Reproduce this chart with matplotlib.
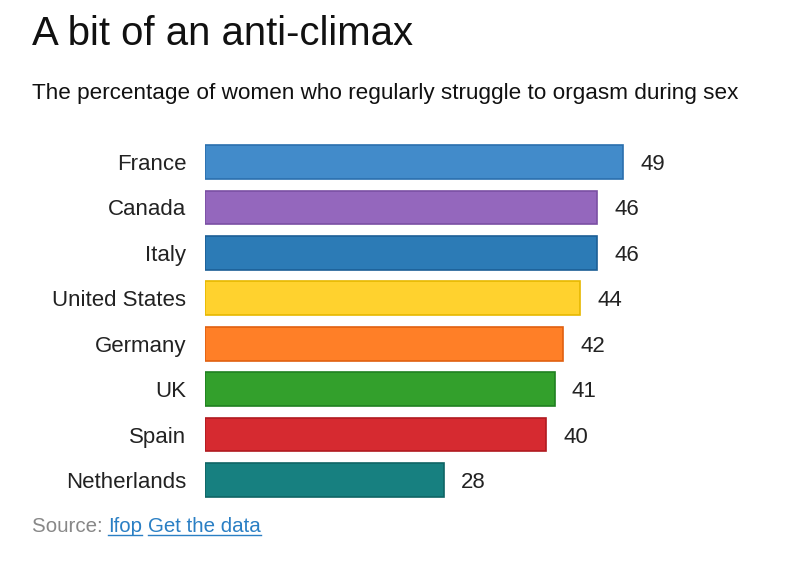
import matplotlib
matplotlib.use("Agg")
import matplotlib.pyplot as plt
from matplotlib.lines import Line2D

plt.rcParams['font.family'] = ['Liberation Sans', 'DejaVu Sans']

countries = ["France", "Canada", "Italy", "United States", "Germany", "UK", "Spain", "Netherlands"]
values = [49, 46, 46, 44, 42, 41, 40, 28]
colors = ["#428bca", "#9467bd", "#2c7bb6", "#ffd22e", "#ff7f27", "#33a02c", "#d62a30", "#178080"]
edges = ["#2a6fae", "#7a4fa3", "#1c5f96", "#e6b800", "#e06010", "#1f8020", "#b01a20", "#0f6565"]

W, H = 800, 587
fig = plt.figure(figsize=(W/100, H/100), dpi=100)
fig.patch.set_facecolor("white")

px_per_unit = (623 - 205) / 49.0
xmax = 60
ax = fig.add_axes([205/W, 1 - 502.7/H, xmax*px_per_unit/W, (502.7-139.3)/H])
y = list(range(len(countries)))
ax.barh(y, values, height=0.74, color=colors, edgecolor=edges, linewidth=1.2)
ax.set_ylim(len(countries)-0.5, -0.5)
ax.set_xlim(0, xmax)
ax.set_yticks(y)
ax.set_yticklabels(countries, fontsize=16, color="#222222", va='center_baseline')
ax.tick_params(axis='y', length=0, pad=13.5)
ax.set_xticks([])
for s in ax.spines.values():
    s.set_visible(False)
for yi, v in zip(y, values):
    ax.text(v + 2.0, yi, str(v), va='center_baseline', ha='left', fontsize=16, color="#222222")

fig.text(32/W, 1 - 34/H, "A bit of an anti-climax", fontsize=28.9, va='center', ha='left', color="#111111")
fig.text(32/W, 1 - 94/H, "The percentage of women who regularly struggle to orgasm during sex",
         fontsize=16.2, va='center', ha='left', color="#111111")

fig.canvas.draw()
r = fig.canvas.get_renderer()
fs = 14.8
ty = 1 - 526/H
t1 = fig.text(32/W, ty, "Source: ", fontsize=fs, va='center', ha='left', color="#888888")
bb = t1.get_window_extent(r)
t2 = fig.text(bb.x1/W, ty, "Ifop", fontsize=fs, va='center', ha='left', color="#2a7fc4")
bb2 = t2.get_window_extent(r)
sp = fig.text(bb2.x1/W, ty, " ", fontsize=fs, va='center', ha='left')
bbs = sp.get_window_extent(r)
t3 = fig.text(bbs.x1/W, ty, "Get the data", fontsize=fs, va='center', ha='left', color="#2a7fc4")
bb3 = t3.get_window_extent(r)
uy = (H - 535) / H
for b in (bb2, bb3):
    fig.add_artist(Line2D([b.x0/W, b.x1/W], [uy, uy], color="#2a7fc4", linewidth=1, transform=fig.transFigure))

fig.savefig("out.png", dpi=100)
